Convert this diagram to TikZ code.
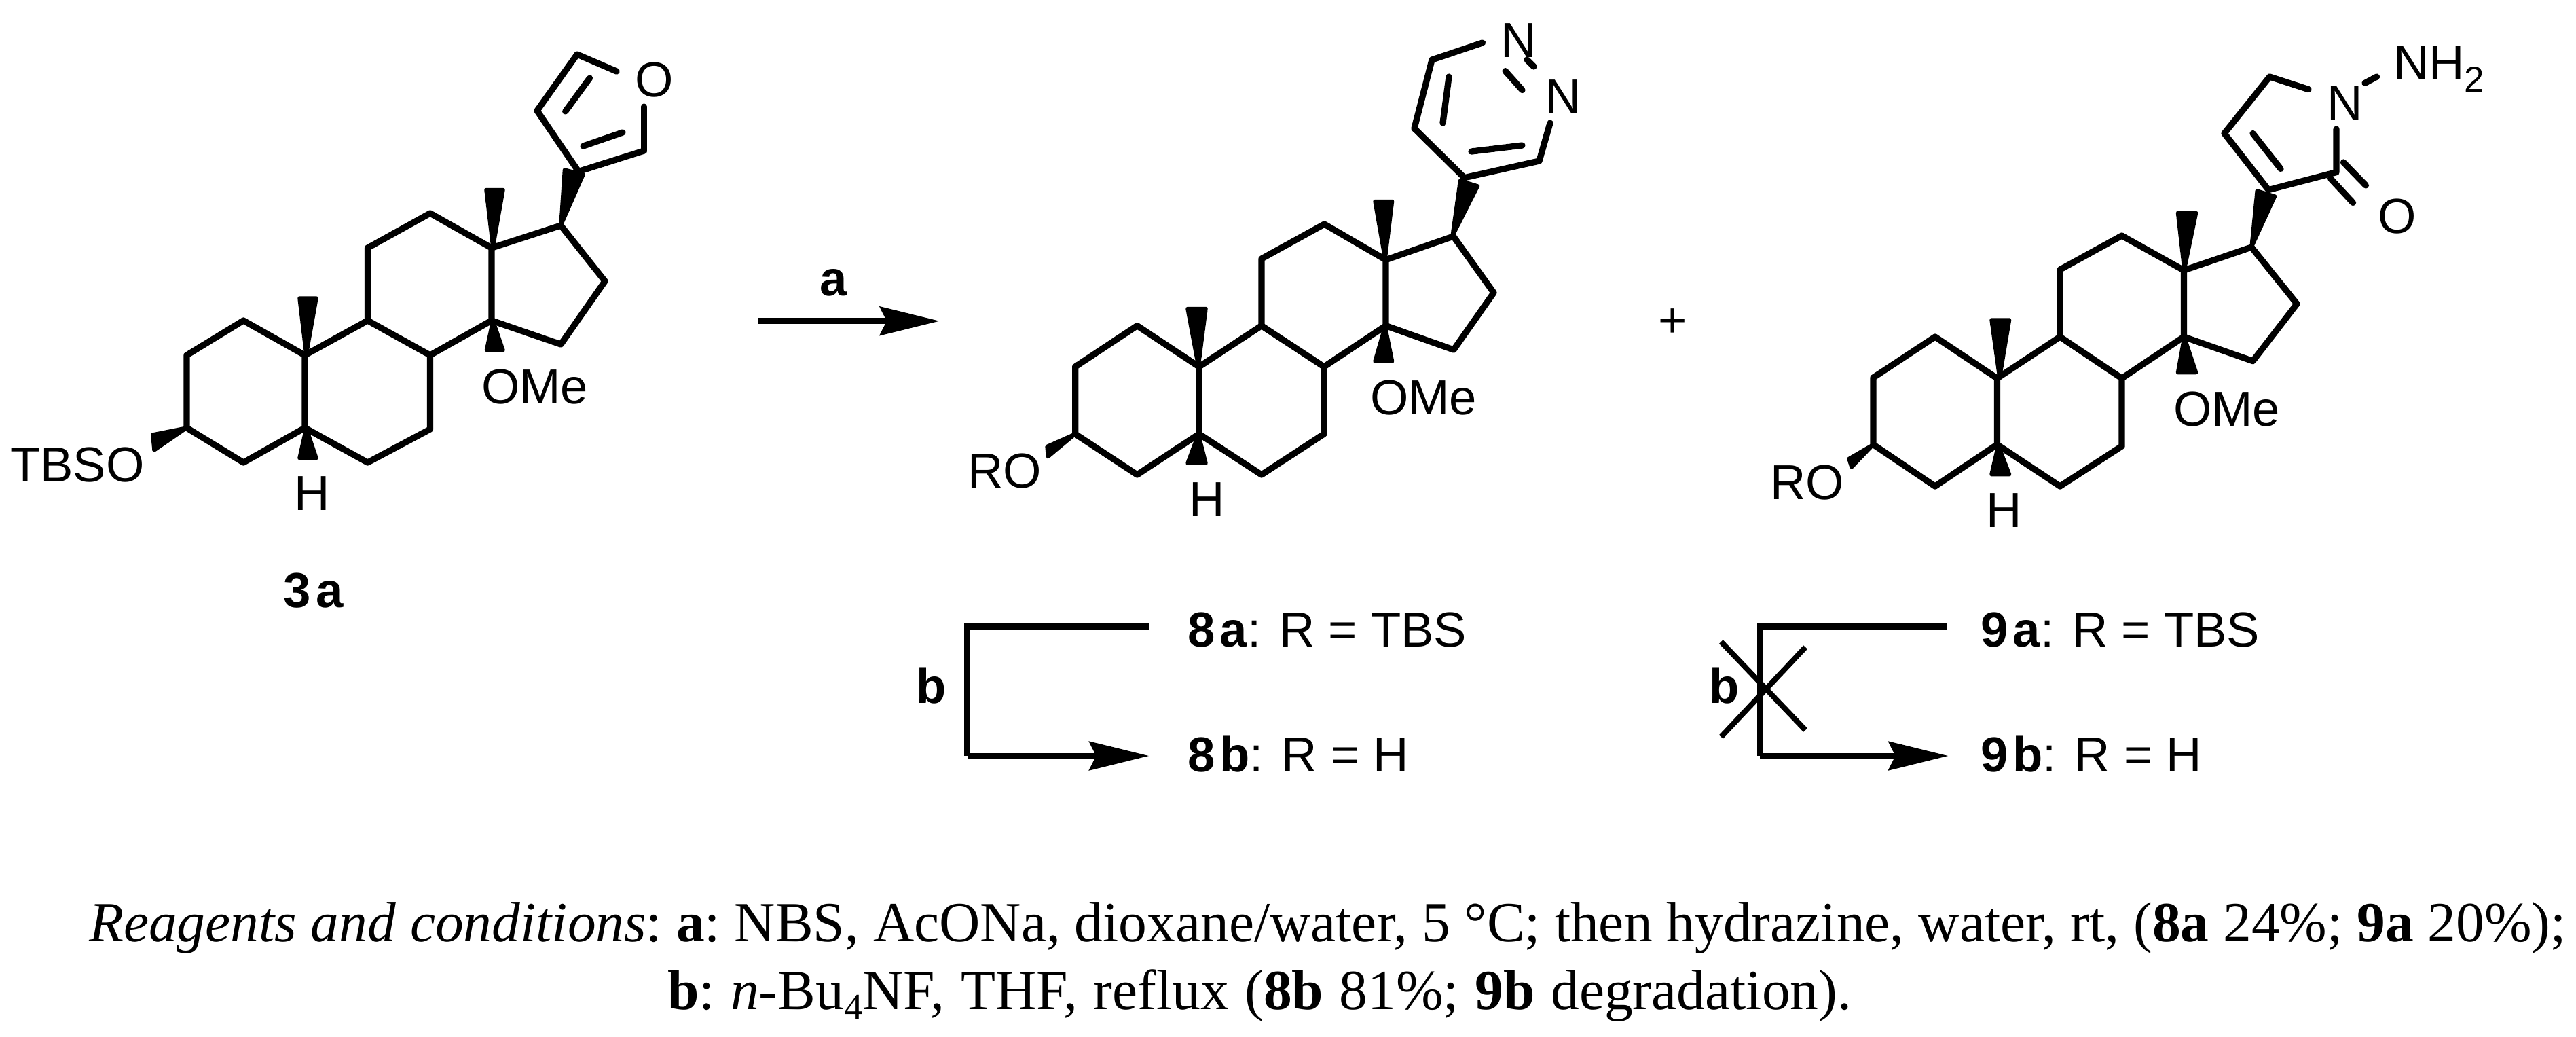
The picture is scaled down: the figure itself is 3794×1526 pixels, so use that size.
\documentclass[tikz,border=0pt]{standalone}
\usepackage{fontspec}
\setmainfont{Liberation Serif}
\setsansfont{Liberation Sans}
\usetikzlibrary{arrows.meta}
\tikzset{
  bond/.style={line width=1.85pt,line cap=round,line join=round},
  wedge/.style={fill=black,draw=black,line width=1.1pt,line join=round},
  atom/.style={inner sep=0pt,outer sep=0pt,anchor=base west,font=\sffamily\fontsize{14.5}{16}\selectfont},
  capt/.style={inner sep=0pt,outer sep=0pt,anchor=base west,font=\rmfamily\fontsize{16.7}{19}\selectfont\frenchspacing},
  rxn/.style={line width=1.8pt,-{Stealth[length=17.6pt,width=8.4pt,inset=2pt]}},
  rxnline/.style={line width=1.8pt,line join=miter},
  crossing/.style={line width=1.6pt}
}
\newcommand{\dk}{\kern1.4pt}
\begin{document}
\begin{tikzpicture}[x=0.2pt,y=-0.2pt]
\useasboundingbox (0,0) rectangle (3794,1526);
% ---------- compound 3a ----------
\coordinate (a1) at (358.5,472);\coordinate (a2) at (275,523);\coordinate (a3) at (275,630);
\coordinate (a4) at (358.5,681);\coordinate (a5) at (449,630);\coordinate (a6) at (541.5,681);
\coordinate (a7) at (633.5,632);\coordinate (a8) at (633.5,523);\coordinate (a9) at (541.5,472);
\coordinate (a10) at (449,523);\coordinate (a11) at (541.5,365);\coordinate (a12) at (633.5,314);
\coordinate (a13) at (724,365);\coordinate (a14) at (724,472);\coordinate (a15) at (826,507);
\coordinate (a16) at (891,414);\coordinate (a17) at (826,332);
\coordinate (af3) at (852,252.5);\coordinate (af4) at (791,163);\coordinate (af5) at (850,80);
\coordinate (afo) at (908,105);\coordinate (af2) at (948.5,222);\coordinate (afp) at (948.5,157);
\coordinate (afd1) at (868.5,115);\coordinate (afd2) at (832.7,164);
\coordinate (afd3) at (917,195);\coordinate (afd4) at (859,215);
\draw[bond] (a1)--(a2)--(a3)--(a4)--(a5)--(a10)--cycle;
\draw[bond] (a5)--(a6)--(a7)--(a8)--(a9)--(a10);
\draw[bond] (a9)--(a11)--(a12)--(a13)--(a14)--(a8);
\draw[bond] (a14)--(a15)--(a16)--(a17)--(a13);
\draw[bond] (af2)--(af3)--(af4)--(af5)--(afo);
\draw[bond] (af2)--(afp);
\draw[bond] (afd1)--(afd2);
\draw[bond] (afd3)--(afd4);
\filldraw[wedge] (451,523) -- (441,439) -- (466,439) -- cycle;
\filldraw[wedge] (726,365) -- (716,279.5) -- (741,279.5) -- cycle;
\filldraw[wedge] (826,332) -- (831.5,250) -- (859,257) -- cycle;
\filldraw[wedge] (726,472) -- (716.5,515.5) -- (741,515.5) -- cycle;
\filldraw[wedge] (451,630) -- (441,674.5) -- (466,674.5) -- cycle;
\filldraw[wedge] (275,630) -- (225,640) -- (227,663) -- cycle;
\node[atom] (atbso) at (15,709) {TBSO};
\node[atom] (ah) at (433,751) {H};
\node[atom] (aome) at (709,594) {OMe};
\node[atom] (ao) at (935,142) {O};
\node[atom] (l3a) at (417,894) {\bfseries 3\kern1.6pt a};
% ---------- compound 8 ----------
\coordinate (b1) at (1674.8,479.6);\coordinate (b2) at (1583.6,540);\coordinate (b3) at (1583.6,639);
\coordinate (b4) at (1674.8,699);\coordinate (b5) at (1766,639);\coordinate (b6) at (1858,699);
\coordinate (b7) at (1950,639);\coordinate (b8) at (1950,540);\coordinate (b9) at (1858,479.6);
\coordinate (b10) at (1766,540);\coordinate (b11) at (1858,381);\coordinate (b12) at (1950.5,330);
\coordinate (b13) at (2041,382.6);\coordinate (b14) at (2041,479.6);\coordinate (b15) at (2141,515);
\coordinate (b16) at (2200,431);\coordinate (b17) at (2140.6,348);
\coordinate (bp4) at (2156.7,261.7);\coordinate (bp5) at (2083,189);\coordinate (bp6) at (2109,88);
\coordinate (bpn) at (2183.4,63);\coordinate (bp3) at (2267,237);\coordinate (bpm) at (2283,181);
\coordinate (bnn1) at (2249,88);\coordinate (bnn2) at (2259,98);
\coordinate (bnn3) at (2217,104.6);\coordinate (bnn4) at (2242,132.6);
\coordinate (bd1) at (2134,113);\coordinate (bd2) at (2125,181);
\coordinate (bd3) at (2167,223);\coordinate (bd4) at (2242,214);
\draw[bond] (b1)--(b2)--(b3)--(b4)--(b5)--(b10)--cycle;
\draw[bond] (b5)--(b6)--(b7)--(b8)--(b9)--(b10);
\draw[bond] (b9)--(b11)--(b12)--(b13)--(b14)--(b8);
\draw[bond] (b14)--(b15)--(b16)--(b17)--(b13);
\draw[bond] (bpm)--(bp3)--(bp4)--(bp5)--(bp6)--(bpn);
\draw[bond] (bnn1)--(bnn2);
\draw[bond] (bnn3)--(bnn4);
\draw[bond] (bd1)--(bd2);
\draw[bond] (bd3)--(bd4);
\filldraw[wedge] (1765,540) -- (1749,454.5) -- (1776,454.5) -- cycle;
\filldraw[wedge] (2040,382) -- (2025,296.5) -- (2050.5,296.5) -- cycle;
\filldraw[wedge] (2139,348) -- (2150.5,266) -- (2176.5,274) -- cycle;
\filldraw[wedge] (2040,480) -- (2025,532) -- (2050.5,532) -- cycle;
\filldraw[wedge] (1765,639) -- (1749,682) -- (1776,682) -- cycle;
\filldraw[wedge] (1583.6,639) -- (1542,657.5) -- (1543.5,672.5) -- cycle;
\node[atom] (bro) at (1425,718) {RO};
\node[atom] (bh) at (1751,760) {H};
\node[atom] (bome) at (2018,610) {OMe};
\node[atom] (bn1) at (2210,84) {N};
\node[atom] (bn2) at (2276,167) {N};
% ---------- compound 9 ----------
\coordinate (c1) at (2850,496);\coordinate (c2) at (2759,556);\coordinate (c3) at (2759,654.6);
\coordinate (c4) at (2850,716);\coordinate (c5) at (2941.4,654.6);\coordinate (c6) at (3034,716);
\coordinate (c7) at (3125,657);\coordinate (c8) at (3125,557);\coordinate (c9) at (3034,496);
\coordinate (c10) at (2941.4,557);\coordinate (c11) at (3034,397);\coordinate (c12) at (3125,347);
\coordinate (c13) at (3216.4,398);\coordinate (c14) at (3216.4,496);\coordinate (c15) at (3318,531.6);
\coordinate (c16) at (3383,447.4);\coordinate (c17) at (3316,364);
\coordinate (cl3) at (3341,279.6);\coordinate (cl4) at (3276,196.4);\coordinate (cl5) at (3342.7,113);
\coordinate (cln) at (3400,131.6);\coordinate (clm) at (3441,190);\coordinate (cl2) at (3441,253.6);
\coordinate (co1) at (3432.5,263);\coordinate (co2) at (3465.5,298.5);
\coordinate (co3) at (3451.4,239);\coordinate (co4) at (3484.4,273);
\coordinate (cnn1) at (3483,122.4);\coordinate (cnn2) at (3500.5,113);
\coordinate (cd1) at (3318,196.4);\coordinate (cd2) at (3359,248.5);
\draw[bond] (c1)--(c2)--(c3)--(c4)--(c5)--(c10)--cycle;
\draw[bond] (c5)--(c6)--(c7)--(c8)--(c9)--(c10);
\draw[bond] (c9)--(c11)--(c12)--(c13)--(c14)--(c8);
\draw[bond] (c14)--(c15)--(c16)--(c17)--(c13);
\draw[bond] (clm)--(cl2)--(cl3)--(cl4)--(cl5)--(cln);
\draw[bond] (co1)--(co2);
\draw[bond] (co3)--(co4);
\draw[bond] (cnn1)--(cnn2);
\draw[bond] (cd1)--(cd2);
\filldraw[wedge] (2945,557) -- (2933,471) -- (2959.5,471) -- cycle;
\filldraw[wedge] (3217,398) -- (3207.5,313.5) -- (3234.5,313.5) -- cycle;
\filldraw[wedge] (3316,364) -- (3324.2,281) -- (3350.5,289) -- cycle;
\filldraw[wedge] (3217,496) -- (3207.5,548.5) -- (3234.5,548.5) -- cycle;
\filldraw[wedge] (2943,655) -- (2933,698.5) -- (2959.5,698.5) -- cycle;
\filldraw[wedge] (2759,654.6) -- (2723,675.5) -- (2727,688) -- cycle;
\node[atom] (cro) at (2607,735) {RO};
\node[atom] (ch) at (2925,776) {H};
\node[atom] (come) at (3201,627) {OMe};
\node[atom] (cn) at (3427,176) {N};
\node[atom] (cnh) at (3525,117) {NH\raisebox{-3.6pt}{\fontsize{10.6}{12}\selectfont 2}};
\node[atom] (co) at (3502,343) {O};
% ---------- reaction arrows ----------
\coordinate (ra1) at (1116,472.7);\coordinate (ra2) at (1384,472.7);
\draw[rxn] (ra1)--(ra2);
\node[atom] (la) at (1207,435) {\bfseries a};
\node[atom,anchor=center] (plus) at (2463.6,475.7) {+};
\coordinate (rb1) at (1692.4,922.7);\coordinate (rb2) at (1424.5,922.7);
\coordinate (rb3) at (1424.5,1113);\coordinate (rb4) at (1692.4,1113);
\draw[rxnline] (rb1)--(rb2)--(rb3);
\draw[rxn] (rb3)--(rb4);
\node[atom] (lb) at (1349,1035) {\bfseries b};
\coordinate (rc1) at (2867,922.7);\coordinate (rc2) at (2592,922.7);
\coordinate (rc3) at (2592,1113);\coordinate (rc4) at (2869.6,1113);
\draw[rxnline] (rc1)--(rc2)--(rc3);
\draw[rxn] (rc3)--(rc4);
\node[atom] (lc) at (2517,1035) {\bfseries b};
\coordinate (x1) at (2534.8,945);\coordinate (x2) at (2659,1075);
\coordinate (x3) at (2659,953);\coordinate (x4) at (2534.8,1085);
\draw[crossing] (x1)--(x2);
\draw[crossing] (x3)--(x4);
\node[atom] (l8a) at (1749,952) {\textbf{8\dk a}: R = TBS};
\node[atom] (l8b) at (1749,1136) {\textbf{8\dk b}: R = H};
\node[atom] (l9a) at (2917,952) {\textbf{9\dk a}: R = TBS};
\node[atom] (l9b) at (2917,1136) {\textbf{9\dk b}: R = H};
% ---------- caption ----------
\node[capt] (cap1) at (131,1386) {\textit{Reagents and conditions}: \textbf{a}: NBS, AcONa, dioxane/water, 5 °C; then hydrazine, water, rt, (\textbf{8a} 24\%; \textbf{9a} 20\%);};
\node[capt] (cap2) at (983,1486) {\spaceskip=4.7pt \textbf{b}: \textit{n}-Bu\raisebox{-3pt}{\fontsize{11}{12}\selectfont 4}NF, THF, ref{}lux (\textbf{8b} 81\%; \textbf{9b} degradation).};
\end{tikzpicture}
\end{document}
